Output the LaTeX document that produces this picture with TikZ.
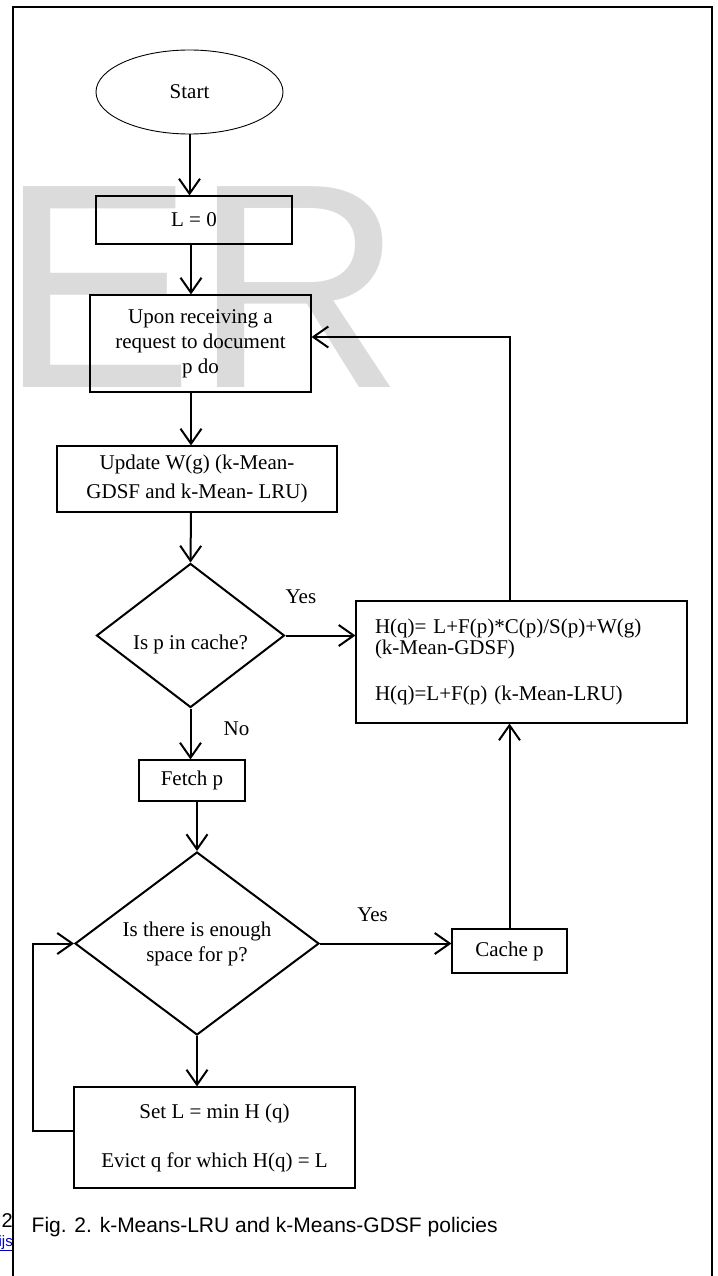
\documentclass[tikz,border=0pt]{standalone}
\usepackage{fontspec}
\setmainfont{Liberation Serif}
\newfontfamily\capfont{Liberation Sans}
\usepackage{tikz}
\usetikzlibrary{shapes.geometric,arrows.meta}

\begin{document}
\begin{tikzpicture}[
    x=1pt, y=-1pt,
    txt/.style={font=\fontsize{21}{25}\selectfont},
    box/.style={rectangle, draw, line width=1.1pt, inner sep=0pt, align=center, txt},
    decision/.style={diamond, draw, line width=2pt, inner sep=0pt, align=center, txt},
    terminal/.style={ellipse, draw, line width=0.9pt, inner sep=0pt, txt},
    arr/.style={-{Straight Barb[length=15pt,width=21pt]}, line width=2pt},
    lbl/.style={txt, inner sep=0pt}
]
    \useasboundingbox (0,0) rectangle (717,1276);
    % page text under the pasted figure
    \node[anchor=base east, inner sep=0pt, font=\capfont\fontsize{20}{20}\selectfont] (pgyear) at (13,1227) {© 2};
    \node[anchor=base east, inner sep=0pt, text=blue!75!black, font=\capfont\fontsize{15}{15}\selectfont] (pglink) at (13,1246) {\underline{.ijs}};
    \fill[white] (13,7) rectangle (712,1290);
    \draw[line width=2pt] (13,1290) -- (13,7) -- (712,7) -- (712,1290);
    % watermark
    \node[anchor=base west, inner sep=0pt, text=black!14, font=\capfont\fontsize{292}{292}\selectfont] (wm) at (-1,387) {ER};

    \coordinate (col) at (191,0);
    \node[terminal, minimum width=187pt, minimum height=84pt] (start) at (189.5,92) {Start};
    \node[box, minimum width=196pt, minimum height=48pt] (lzero) at (194,220) {L = 0};
    \node[box, minimum width=221pt, minimum height=97pt] (upon) at (200.5,343.5) {Upon receiving a\\request to document\\p do};
    \node[box, minimum width=280pt, minimum height=66pt] (update) at (197,479) {Update W(g) (k-Mean-\\[4pt]GDSF and k-Mean- LRU)};
    \node[decision, shape aspect=1.3, minimum width=188pt, minimum height=144pt, text height=33pt, text depth=5pt] (incache) at (190.5,635.5) {Is p in cache?};
    \node[box, minimum width=331pt, minimum height=122pt, text width=293pt, align=left] (hcalc) at (521.5,662) {H(q)= L+F(p)*C(p)/S(p)+W(g)\\[-4pt](k-Mean-GDSF)\\[21pt]H(q)=L+F(p) (k-Mean-LRU)};
    \node[box, minimum width=106pt, minimum height=41pt] (fetch) at (192,780.5) {Fetch p};
    \node[decision, shape aspect=1.33, minimum width=244pt, minimum height=183pt] (space) at (197,943.5) {Is there is enough\\space for p?};
    \node[box, minimum width=115pt, minimum height=44pt] (cachep) at (509.5,951) {Cache p};
    \node[box, minimum width=281pt, minimum height=101pt] (setl) at (214.5,1137.5) {Set L = min H (q)\\[24pt]Evict q for which H(q) = L};

    \draw[arr] (start.south) -- (start.south |- lzero.north);
    \draw[arr] (lzero.south -| col) -- (upon.north -| col);
    \draw[arr] (upon.south -| col) -- (update.north -| col);
    \draw[arr] (update.south -| col) -- (incache.north);
    \draw[arr] (incache.east) -- (incache.east -| hcalc.west) node[lbl, pos=0.22, yshift=39pt] {Yes};
    \draw[arr] (incache.south) -- (incache.south |- fetch.north) node[lbl, pos=0.4, xshift=46pt] {No};
    \draw[arr] (space.north |- fetch.south) -- (space.north);
    \draw[arr] (space.east) -- (space.east -| cachep.west) node[lbl, pos=0.4, yshift=29pt] {Yes};
    \draw[arr] (cachep.north) -- (cachep.north |- hcalc.south);
    \draw[arr] (cachep.north |- hcalc.north) |- ([yshift=6.5pt]upon.east);
    \draw[arr] (space.south) -- (space.south |- setl.north);
    \draw[arr] ([yshift=6.5pt]setl.west) -- ++(-40,0) |- (space.west);

    \node[anchor=base west, inner sep=0pt, font=\capfont\fontsize{21}{25}\selectfont] (caption) at (31.5,1232) {Fig. 2. k-Means-LRU and k-Means-GDSF policies};
\end{tikzpicture}
\end{document}
